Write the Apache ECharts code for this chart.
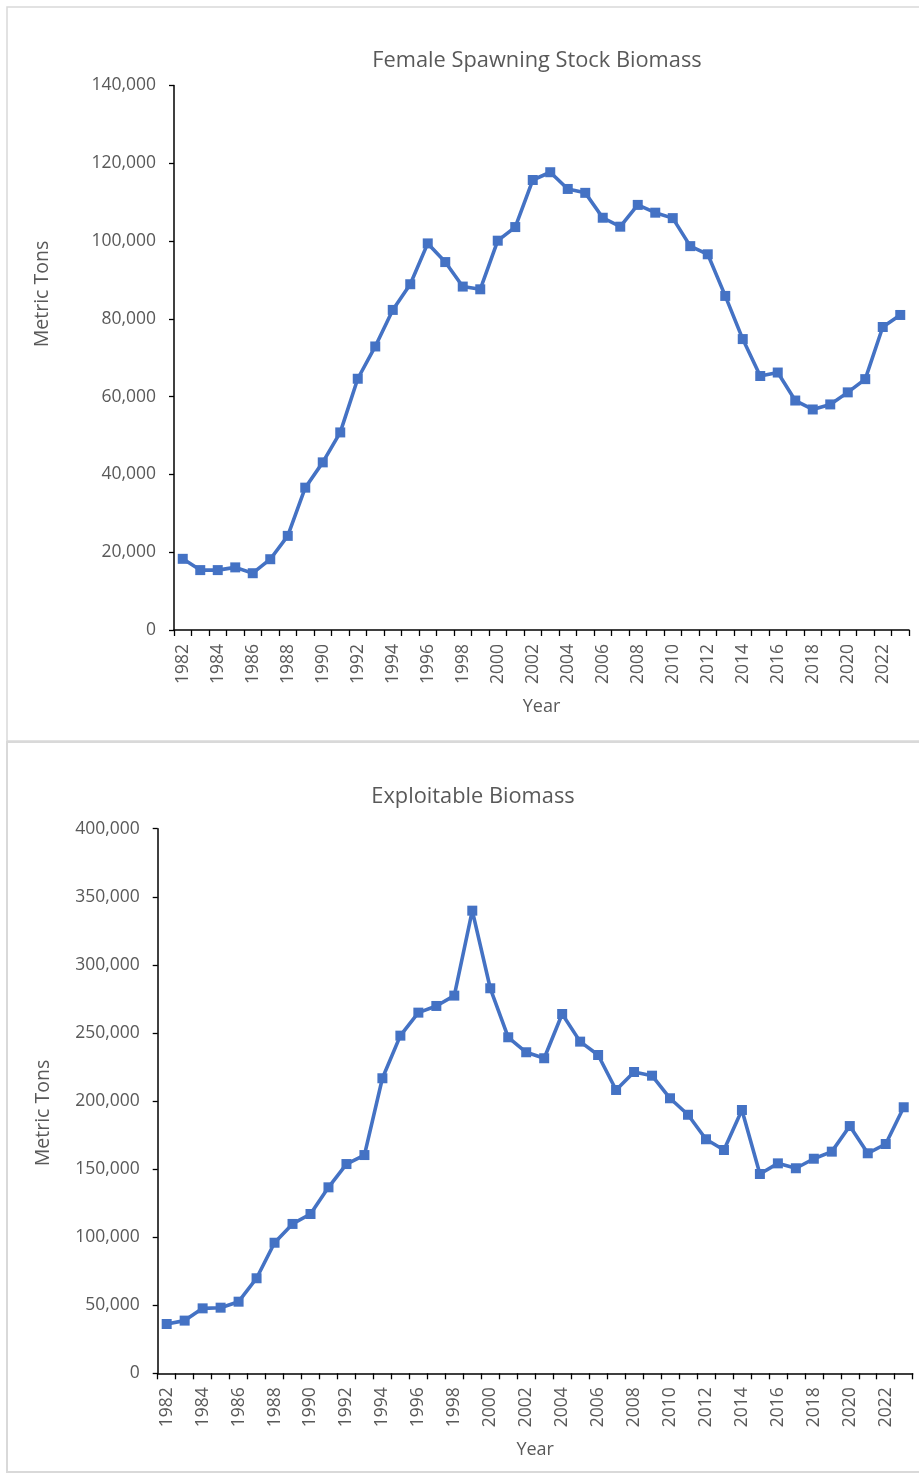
<!DOCTYPE html>
<html>
<head>
<meta charset="utf-8">
<script src="https://cdn.jsdelivr.net/npm/echarts@6/dist/echarts.min.js"></script>
<style>
html,body{margin:0;padding:0;background:#fff;}
#chart{width:919px;height:1474px;}
</style>
</head>
<body>
<div id="chart"></div>
<script>
const years = [];
for (let y = 1982; y <= 2023; y++) years.push(String(y));

const ssbTitle = 'Female Spawning Stock Biomass';
const exbTitle = 'Exploitable Biomass';
const yAxisName = 'Metric Tons';
const xAxisName = 'Year';

const ssbValues = [18300, 15400, 15400, 16100, 14600, 18200, 24200, 36600, 43100, 50800,
  64600, 72900, 82300, 88900, 99400, 94600, 88300, 87600, 100100, 103600,
  115700, 117700, 113400, 112400, 106000, 103700, 109300, 107300, 105900, 98700,
  96600, 85900, 74800, 65300, 66200, 59000, 56700, 58000, 61100, 64500,
  77900, 81000];

const exbValues = [36200, 38700, 47700, 48200, 52600, 69800, 95900, 109700, 117000, 136600,
  153700, 160300, 216700, 248000, 264900, 269800, 277400, 339800, 282800, 246800,
  235800, 231400, 263900, 243600, 233800, 208100, 221300, 218600, 202000, 189900,
  171900, 164000, 193400, 146400, 154200, 150600, 157600, 162800, 181600, 161600,
  168400, 195400];

const ssbTicks = {min: 0, max: 140000, interval: 20000};
const exbTicks = {min: 0, max: 400000, interval: 50000};

const FONT = 'Open Sans';
const TXT = '#595959';
const BLUE = '#4472C4';

function fmt(v){ return Number(v).toLocaleString('en-US'); }

function xAxis(gridIndex){
  return {
    type: 'category', gridIndex, data: years, boundaryGap: true,
    name: xAxisName, nameLocation: 'middle', nameGap: 68,
    nameTextStyle: {color: TXT, fontFamily: FONT, fontSize: 18},
    axisLine: {show: true, lineStyle: {color: '#000', width: 1.5}},
    axisTick: {show: true, interval: 0, length: 6, lineStyle: {color: '#000', width: 1.3}},
    axisLabel: {interval: 1, rotate: 90, color: TXT, fontFamily: FONT, fontSize: 17.5, margin: 14},
    splitLine: {show: false}
  };
}
function yAxis(gridIndex, t){
  return {
    type: 'value', gridIndex, min: t.min, max: t.max, interval: t.interval,
    axisLine: {show: true, lineStyle: {color: '#000', width: 1.5}},
    axisTick: {show: true, length: 5, lineStyle: {color: '#000', width: 1.3}},
    axisLabel: {color: TXT, fontFamily: FONT, fontSize: 17.5, margin: 18, formatter: fmt},
    splitLine: {show: false}
  };
}
function series(i, data){
  return {
    type: 'line', xAxisIndex: i, yAxisIndex: i, data,
    symbol: 'rect', symbolSize: 10, showSymbol: true,
    lineStyle: {color: BLUE, width: 3.6},
    itemStyle: {color: BLUE},
    emphasis: {disabled: true},
    animation: false
  };
}
function label(text, x, y, size, rot){
  return {type: 'text', x, y, rotation: rot || 0, silent: true,
    style: {text, fill: TXT, fontFamily: FONT, fontSize: size, align: 'center', verticalAlign: 'middle'}};
}

const chart = echarts.init(document.getElementById('chart'), null, {renderer: 'canvas'});
chart.setOption({
  backgroundColor: '#fff',
  animation: false,
  graphic: [
    {type: 'rect', shape: {x: 7, y: 7, width: 940, height: 734},
     style: {fill: 'none', stroke: '#d9d9d9', lineWidth: 1.5}, silent: true},
    {type: 'rect', shape: {x: 7, y: 742, width: 940, height: 730},
     style: {fill: 'none', stroke: '#d9d9d9', lineWidth: 2}, silent: true},
    label(ssbTitle, 537, 61, 21.8),
    label(exbTitle, 473, 797, 21.8),
    label(yAxisName, 42, 294, 19.5, Math.PI / 2),
    label(yAxisName, 43, 1113, 19.5, Math.PI / 2)
  ],
  grid: [
    {left: 174, right: 10, top: 85.5, bottom: 844, containLabel: false},
    {left: 157.7, right: 6.3, top: 828.7, bottom: 100.7, containLabel: false}
  ],
  xAxis: [xAxis(0), xAxis(1)],
  yAxis: [yAxis(0, ssbTicks), yAxis(1, exbTicks)],
  series: [series(0, ssbValues), series(1, exbValues)]
});
</script>
</body>
</html>
